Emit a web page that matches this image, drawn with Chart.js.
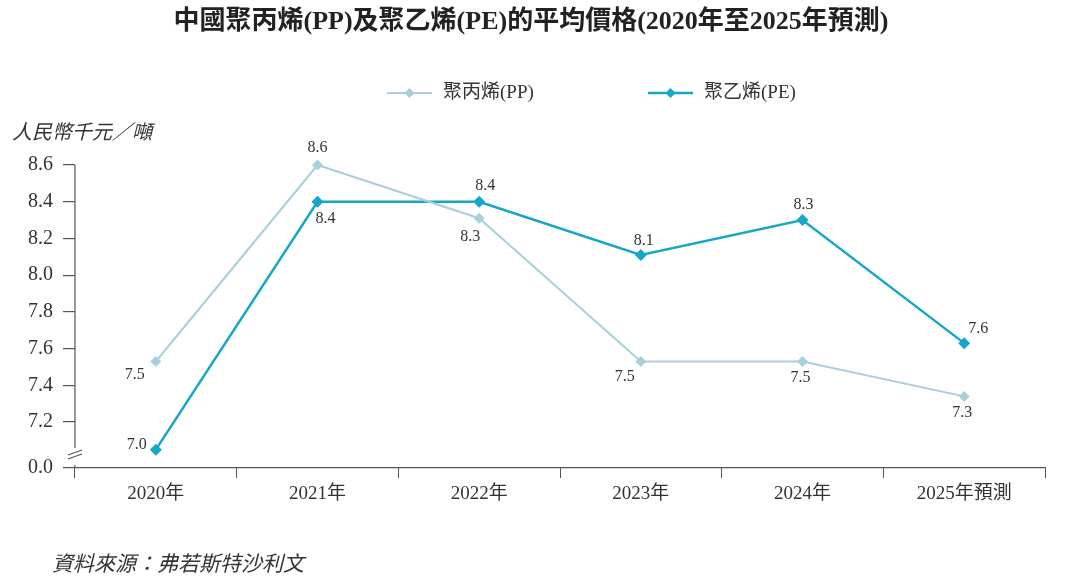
<!DOCTYPE html>
<html lang="zh-Hant">

<head>
    <meta charset="UTF-8">
    <title>中國聚丙烯(PP)及聚乙烯(PE)的平均價格</title>
    <script src="https://cdn.jsdelivr.net/npm/chart.js"></script>
    <style>
        body,
        html {
            margin: 0;
            background: #fff;
        }

        #wrap {
            width: 1080px;
            height: 588px;
        }
    </style>
</head>

<body>
    <div id="wrap"><canvas id="priceChart"></canvas></div>
    <script>
        // data
        const years = ['2020年', '2021年', '2022年', '2023年', '2024年', '2025年預測'];
        const ppPrices = [7.53, 8.6, 8.31, 7.53, 7.53, 7.34];
        const pePrices = [7.05, 8.4, 8.4, 8.11, 8.3, 7.63];
        const yTicks = [6.95, 7.2, 7.4, 7.6, 7.8, 8.0, 8.2, 8.4, 8.6];
        const yBreakValue = 6.95; // drawn as 0.0 below the axis break

        // label placement (pixels from the point)
        const ppLabelOffset = [[-21, 13], [0, -17], [-9, 19], [-16, 15], [-2, 16], [-2, 16]];
        const peLabelOffset = [[-19, -5], [8, 17], [6, -16], [3, -14], [1, -15], [14, -14]];

        const ppColor = '#a8d0dc';
        const peColor = '#15a6c8';
        const textColor = '#333';
        const serif = "'Liberation Serif', 'Noto Sans CJK TC', serif";

        const decorPlugin = {
            id: 'decor',
            afterDraw(chart) {
                const ctx = chart.ctx;
                const area = chart.chartArea;
                ctx.save();

                // y axis line with break
                ctx.strokeStyle = '#555';
                ctx.lineWidth = 1.2;
                ctx.beginPath();
                ctx.moveTo(area.left, area.top);
                ctx.lineTo(area.left, area.bottom - 20);
                ctx.moveTo(area.left, area.bottom - 3);
                ctx.lineTo(area.left, area.bottom);
                ctx.moveTo(area.left - 7, area.bottom - 13);
                ctx.lineTo(area.left + 7, area.bottom - 18);
                ctx.moveTo(area.left - 7, area.bottom - 9);
                ctx.lineTo(area.left + 7, area.bottom - 14);
                ctx.stroke();

                // axis unit
                ctx.fillStyle = textColor;
                ctx.font = "italic 20px 'Noto Sans CJK TC', sans-serif";
                ctx.textAlign = 'left';
                ctx.textBaseline = 'middle';
                ctx.fillText('人民幣千元／噸', 12, 131);

                // source
                ctx.font = "italic 21px 'Noto Sans CJK TC', sans-serif";
                ctx.fillText('資料來源：弗若斯特沙利文', 52, 563);

                // legend
                const items = [
                    { x: 387, text: '聚丙烯(PP)', ds: 0 },
                    { x: 648, text: '聚乙烯(PE)', ds: 1 }
                ];
                items.forEach(it => {
                    const ds = chart.data.datasets[it.ds];
                    const y = 93;
                    ctx.strokeStyle = ds.borderColor;
                    ctx.lineWidth = ds.borderWidth;
                    ctx.beginPath();
                    ctx.moveTo(it.x, y);
                    ctx.lineTo(it.x + 45, y);
                    ctx.stroke();
                    ctx.fillStyle = ds.borderColor;
                    ctx.beginPath();
                    ctx.moveTo(it.x + 22.5, y - 5);
                    ctx.lineTo(it.x + 27.5, y);
                    ctx.lineTo(it.x + 22.5, y + 5);
                    ctx.lineTo(it.x + 17.5, y);
                    ctx.closePath();
                    ctx.fill();
                    ctx.fillStyle = textColor;
                    ctx.font = '19px ' + serif;
                    ctx.fillText(it.text, it.x + 56, y);
                });

                // point labels
                ctx.font = '16px ' + serif;
                ctx.textAlign = 'center';
                ctx.fillStyle = textColor;
                const offsets = [ppLabelOffset, peLabelOffset];
                chart.data.datasets.forEach((ds, i) => {
                    const meta = chart.getDatasetMeta(i);
                    meta.data.forEach((pt, j) => {
                        const off = offsets[i][j];
                        ctx.fillText(ds.data[j].toFixed(1), pt.x + off[0], pt.y + off[1]);
                    });
                });
                ctx.restore();
            }
        };

        const ctx = document.getElementById('priceChart').getContext('2d');
        new Chart(ctx, {
            type: 'line',
            data: {
                labels: years,
                datasets: [{
                    label: '聚丙烯(PP)',
                    data: ppPrices,
                    borderColor: ppColor,
                    backgroundColor: ppColor,
                    borderWidth: 2,
                    pointStyle: 'rectRot',
                    pointRadius: 5.5,
                    pointHoverRadius: 5.5,
                    pointBorderWidth: 0,
                    tension: 0,
                    clip: false
                }, {
                    label: '聚乙烯(PE)',
                    data: pePrices,
                    borderColor: peColor,
                    backgroundColor: peColor,
                    borderWidth: 2.5,
                    pointStyle: 'rectRot',
                    pointRadius: 6,
                    pointHoverRadius: 6,
                    pointBorderWidth: 0,
                    tension: 0,
                    clip: false
                }]
            },
            options: {
                responsive: true,
                maintainAspectRatio: false,
                animation: false,
                layout: {
                    padding: { top: 165, right: 35, left: 0, bottom: 0 }
                },
                plugins: {
                    legend: { display: false },
                    tooltip: { enabled: false },
                    title: {
                        display: false
                    }
                },
                scales: {
                    x: {
                        offset: true,
                        afterFit(scale) { scale.height = 120; },
                        grid: {
                            offset: true,
                            drawOnChartArea: false,
                            drawTicks: true,
                            tickLength: 10,
                            color: '#555'
                        },
                        border: { display: true, color: '#555', width: 1.2 },
                        ticks: {
                            color: textColor,
                            font: { family: serif, size: 19 },
                            padding: 5
                        }
                    },
                    y: {
                        min: yBreakValue,
                        max: 8.6,
                        afterFit(scale) { scale.width = 75; },
                        afterBuildTicks(scale) {
                            scale.ticks = yTicks.map(v => ({ value: v }));
                        },
                        grid: {
                            drawOnChartArea: false,
                            tickLength: 12,
                            color: '#555',
                            lineWidth: 1.2
                        },
                        border: { display: false },
                        ticks: {
                            color: textColor,
                            font: { family: serif, size: 20 },
                            padding: 10,
                            callback: v => v === yBreakValue ? '0.0' : v.toFixed(1)
                        }
                    }
                }
            },
            plugins: [decorPlugin, {
                id: 'heading',
                afterDraw(chart) {
                    const c = chart.ctx;
                    c.save();
                    c.fillStyle = '#222';
                    c.font = "bold 26px " + serif;
                    c.textAlign = 'center';
                    c.textBaseline = 'middle';
                    c.fillText('中國聚丙烯(PP)及聚乙烯(PE)的平均價格(2020年至2025年預測)', 531, 22);
                    c.restore();
                }
            }]
        });
    </script>
</body>

</html>
